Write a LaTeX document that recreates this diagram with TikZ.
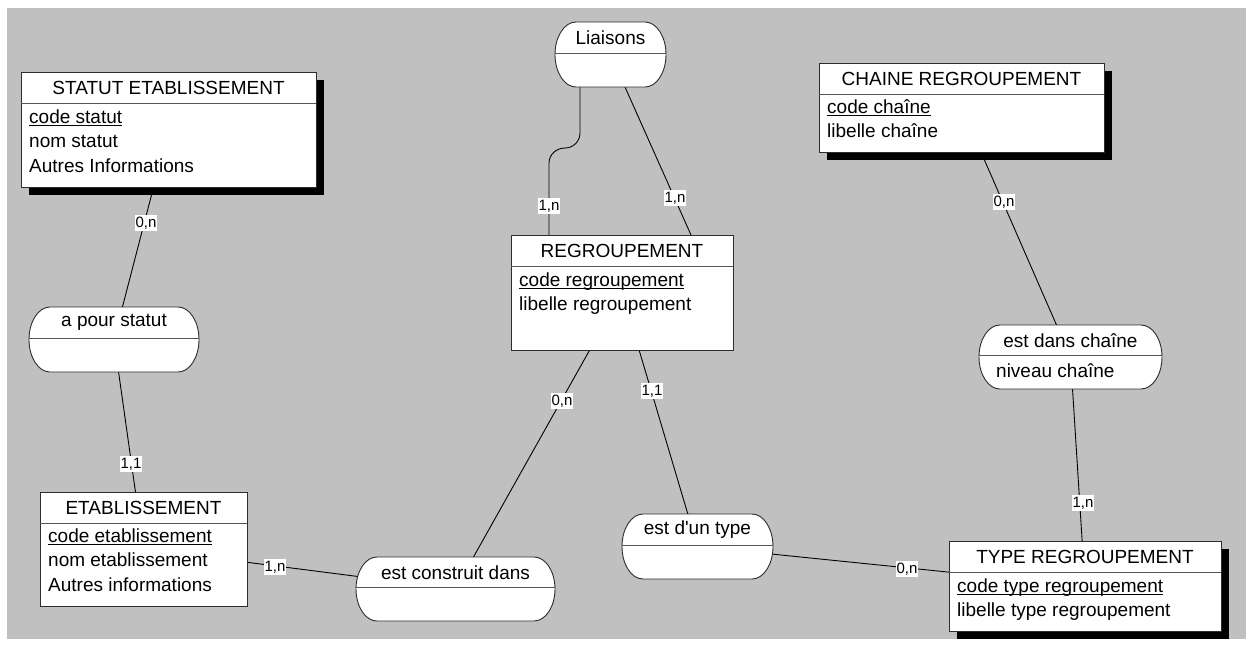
\documentclass[tikz,border=0pt]{standalone}
\usepackage{fontspec}
\newfontfamily\diagfont{Liberation Sans}
\usetikzlibrary{calc,shadows}

\definecolor{sheet}{RGB}{192,192,192}
\definecolor{frame}{RGB}{45,45,45}
\definecolor{splitline}{RGB}{85,85,85}

\pgfdeclarelayer{canvas}
\pgfdeclarelayer{links}
\pgfsetlayers{canvas,links,main}

% identifier attribute: underline at a fixed depth below the baseline
\newcommand\ident[1]{\setbox0\hbox{#1}\rlap{\rule[-2.6pt]{\wd0}{0.9pt}}\box0}

\tikzset{
  entity/.style={draw=frame, line width=0.9pt, fill=white, inner sep=0pt, outer sep=0pt},
  shadowed/.style={drop shadow={shadow xshift=8pt, shadow yshift=-8pt, fill=black, opacity=1}},
  relframe/.style={draw=frame, line width=0.9pt, fill=white},
  anchorbox/.style={inner sep=0pt, outer sep=0pt},
  splitrule/.style={draw=splitline, line width=0.9pt},
  heading/.style={inner sep=0pt, font=\diagfont\fontsize{19}{23}\selectfont},
  field/.style={inner sep=0pt, anchor=base west, font=\diagfont\fontsize{19}{23}\selectfont},
  link/.style={draw=black, line width=0.9pt},
  card/.style={fill=white, inner xsep=1pt, inner ysep=1pt, text height=11pt,
    text depth=3pt, font=\diagfont\fontsize{15}{17}\selectfont},
}

% entity box: name, extra style, x1, y1, x2, y2, heading
\newcommand\entity[7]{%
  \node[entity,#2,minimum width={#5-#3},minimum height={#6-#4}] (#1) at ({(#3+#5)/2},{(#4+#6)/2}) {};
  \draw[splitrule] (#3,{#4+31}) -- (#5,{#4+31});
  \node[heading] (#1-title) at ({(#3+#5)/2},{#4+15.5}) {#7};
}

% association with elliptic ends: name, x1, y1, x2, y2, heading
\newcommand\relation[6]{%
  \pgfmathsetmacro\relL{#2+21}%
  \pgfmathsetmacro\relR{#4-21}%
  \pgfmathsetmacro\relM{(#3+#5)/2}%
  \pgfmathsetmacro\relK{0.5523*(#5-#3)/2}%
  \draw[relframe] (\relL,#3) -- (\relR,#3)
     .. controls ({\relR+11.6},#3) and (#4,{\relM-\relK}) .. (#4,\relM)
     .. controls (#4,{\relM+\relK}) and ({\relR+11.6},#5) .. (\relR,#5)
     -- (\relL,#5)
     .. controls ({\relL-11.6},#5) and (#2,{\relM+\relK}) .. (#2,\relM)
     .. controls (#2,{\relM-\relK}) and ({\relL-11.6},#3) .. cycle;
  \node[anchorbox,minimum width={#4-#2},minimum height={#5-#3}] (#1) at ({(#2+#4)/2},\relM) {};
  \draw[splitrule] (#2,{\relM-1.5}) -- (#4,{\relM-1.5});
  \node[heading] (#1-title) at ({(#2+#4)/2},{(#3+\relM-1.5)/2}) {#6};
}

\begin{document}
\begin{tikzpicture}[x=1pt,y=-1pt]
\useasboundingbox (0,0) rectangle (1251,649);
\begin{pgfonlayer}{canvas}
  \fill[white] (0,0) rectangle (1251,649);
  \fill[sheet] (7,8) rectangle (1246,639);
\end{pgfonlayer}

% entities
\entity{statut}{shadowed}{21}{72}{316}{187}{STATUT ETABLISSEMENT}
\node[field] (statut-a1) at ($(statut.north west)+(8,51)$) {\ident{code statut}};
\node[field] (statut-a2) at ($(statut.north west)+(8,75.5)$) {nom statut};
\node[field] (statut-a3) at ($(statut.north west)+(8,100)$) {Autres Informations};

\entity{chaine}{shadowed}{819}{63}{1104}{152}{CHAINE REGROUPEMENT}
\node[field] (chaine-a1) at ($(chaine.north west)+(8,50)$) {\ident{code chaîne}};
\node[field] (chaine-a2) at ($(chaine.north west)+(8,74.5)$) {libelle chaîne};

\entity{regroup}{}{511}{235}{733}{350}{REGROUPEMENT}
\node[field] (regroup-a1) at ($(regroup.north west)+(8,51)$) {\ident{code regroupement}};
\node[field] (regroup-a2) at ($(regroup.north west)+(8,75.5)$) {libelle regroupement};

\entity{etab}{}{40}{492}{247}{606}{ETABLISSEMENT}
\node[field] (etab-a1) at ($(etab.north west)+(8,50)$) {\ident{code etablissement}};
\node[field] (etab-a2) at ($(etab.north west)+(8,74.5)$) {nom etablissement};
\node[field] (etab-a3) at ($(etab.north west)+(8,99)$) {Autres informations};

\entity{type}{shadowed}{949}{541}{1221}{631}{TYPE REGROUPEMENT}
\node[field] (type-a1) at ($(type.north west)+(8,51)$) {\ident{code type regroupement}};
\node[field] (type-a2) at ($(type.north west)+(8,75.5)$) {libelle type regroupement};

% associations
\relation{liaisons}{555}{22}{666}{87}{Liaisons}
\relation{apour}{29}{307}{199}{372}{a pour statut}
\relation{construit}{356}{557}{555}{621}{est construit dans}
\relation{estdun}{622}{514}{773}{579}{est d'un type}
\relation{estdans}{979}{325}{1162}{389}{est dans chaîne}
\node[field] (estdans-a1) at ($(estdans.north west)+(17,52)$) {niveau chaîne};

% connectors
\begin{pgfonlayer}{links}
  \draw[link] (statut.center) -- (apour.center);
  \draw[link] (apour.center) -- (etab.center);
  \draw[link] (etab.center) -- (construit.center);
  \draw[link] (construit.center) -- (regroup.center);
  \draw[link] (regroup.center) -- (estdun.center);
  \draw[link] (estdun.center) -- (type.center);
  \draw[link] (chaine.center) -- (estdans.center);
  \draw[link] (estdans.center) -- (type.center);
  \draw[link] ($(liaisons.south west)+(25,0)$) -- (580,133)
     .. controls (580,141.3) and (573.3,148) .. (565,148)
     .. controls (556.2,148) and (549,154.7) .. (549,163)
     -- ($(regroup.north west)+(38,0)$);
  \draw[link] ($(liaisons.south west)+(70,0)$) -- ($(regroup.north west)+(180,0)$);
\end{pgfonlayer}

% cardinalities
\node[card] (c1) at (146,223) {0,n};
\node[card] (c2) at (131,464) {1,1};
\node[card] (c3) at (275,567) {1,n};
\node[card] (c4) at (562,401) {0,n};
\node[card] (c5) at (652,391) {1,1};
\node[card] (c6) at (907,569) {0,n};
\node[card] (c7) at (1004,202) {0,n};
\node[card] (c8) at (1083,503) {1,n};
\node[card] (c9) at (549,206) {1,n};
\node[card] (c10) at (675,198) {1,n};
\end{tikzpicture}
\end{document}
